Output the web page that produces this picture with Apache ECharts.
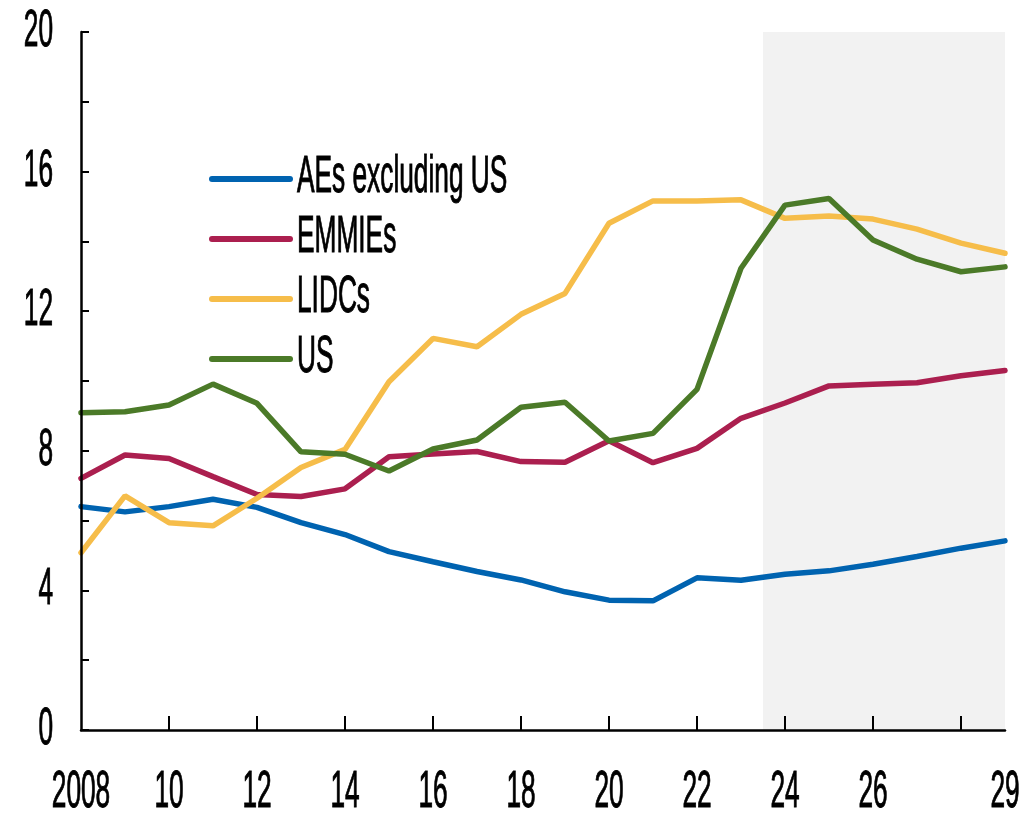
<!DOCTYPE html>
<html lang="en">
<head>
    <meta charset="utf-8">
    <title>Debt chart</title>
    <script src="https://cdn.jsdelivr.net/npm/echarts@6/dist/echarts.min.js"></script>
    <style>
        html,
        body {
            width: 100%;
            height: 100%;
            margin: 0;
            padding: 0;
            overflow: hidden;
            background-color: #ffffff;
        }

        #main {
            width: 1034px;
            height: 815px;
        }
    </style>
</head>

<body>
<div id="main"></div>
<script>

    var years = [2008, 2009, 2010, 2011, 2012, 2013, 2014, 2015, 2016, 2017, 2018,
        2019, 2020, 2021, 2022, 2023, 2024, 2025, 2026, 2027, 2028, 2029];
    var aesExUs = [6.40, 6.25, 6.40, 6.61, 6.38, 5.94, 5.60, 5.11, 4.82, 4.54, 4.30,
        3.96, 3.72, 3.70, 4.36, 4.29, 4.46, 4.56, 4.75, 4.97, 5.21, 5.42];
    var emmies = [7.21, 7.88, 7.78, 7.26, 6.75, 6.69, 6.91, 7.83, 7.91, 7.98, 7.69,
        7.67, 8.29, 7.66, 8.07, 8.93, 9.37, 9.86, 9.91, 9.95, 10.15, 10.30];
    var lidcs = [5.08, 6.71, 5.94, 5.85, 6.64, 7.52, 8.04, 9.98, 11.22, 10.98, 11.91,
        12.51, 14.52, 15.16, 15.16, 15.19, 14.66, 14.73, 14.64, 14.35, 13.95, 13.66];
    var us = [9.09, 9.12, 9.31, 9.91, 9.36, 7.97, 7.90, 7.42, 8.05, 8.31, 9.25,
        9.39, 8.28, 8.50, 9.76, 13.23, 15.04, 15.23, 14.04, 13.49, 13.13, 13.27];

    var seriesNames = ['AEs excluding US', 'EMMIEs', 'LIDCs', 'US'];
    var seriesColors = ['#0063b0', '#ab1f4f', '#f6bd4a', '#4b7a28'];

    // tick labels
    var xLabelYears = [2008, 2010, 2012, 2014, 2016, 2018, 2020, 2022, 2024, 2026, 2029];
    var xLabelText = ['2008', '10', '12', '14', '16', '18', '20', '22', '24', '26', '29'];
    var xTickYears = [2010, 2012, 2014, 2016, 2018, 2020, 2022, 2024, 2026, 2028];
    var yLabelValues = [0, 4, 8, 12, 16, 20];

    // projection period shading
    var projStart = 2023.5;
    var projEnd = 2029;

    // narrow, tall lettering like the original
    var fontName = '36px "Liberation Sans", Arial, sans-serif';
    var textScaleX = 0.73;
    var textScaleY = 1.42;

    function pairs(vals) {
        var out = [];
        for (var i = 0; i < years.length; i++) {
            out.push([years[i], vals[i]]);
        }
        return out;
    }

    function lineSeries(idx, vals) {
        return {
            name: seriesNames[idx],
            type: 'line',
            symbol: 'none',
            color: seriesColors[idx],
            lineStyle: {width: 5.5, color: seriesColors[idx], cap: 'round'},
            data: pairs(vals)
        };
    }

    var series = [
        lineSeries(0, aesExUs),
        lineSeries(1, emmies),
        lineSeries(2, lidcs),
        lineSeries(3, us)
    ];
    series[0].markArea = {
        silent: true,
        itemStyle: {color: '#f2f2f2'},
        data: [[{xAxis: projStart}, {xAxis: projEnd}]]
    };

    var myChart = echarts.init(document.getElementById('main'));
    var option = {
        animation: false,
        backgroundColor: '#ffffff',
        grid: {
            left: 81,
            right: 29,
            top: 32,
            bottom: 85
        },
        xAxis: {
            type: 'value',
            min: 2008,
            max: 2029,
            interval: 1,
            z: 5,
            splitLine: {show: false},
            axisLine: {lineStyle: {color: '#000000', width: 2.5}},
            axisTick: {
                inside: true,
                length: 14,
                customValues: xTickYears,
                lineStyle: {color: '#000000', width: 2}
            },
            axisLabel: {show: false}
        },
        yAxis: {
            type: 'value',
            min: 0,
            max: 20,
            interval: 2,
            z: 5,
            splitLine: {show: false},
            axisLine: {show: true, lineStyle: {color: '#000000', width: 2.5}},
            axisTick: {show: true, inside: true, length: 8, lineStyle: {color: '#000000', width: 2}},
            axisLabel: {show: false}
        },
        series: series
    };
    myChart.setOption(option);

    // labels and legend drawn as scaled text, placed through the axes
    function stretchedText(txt, x, y, align) {
        return {
            type: 'text',
            x: x,
            y: y,
            scaleX: textScaleX,
            scaleY: textScaleY,
            silent: true,
            z: 10,
            style: {
                text: txt,
                font: fontName,
                fill: '#000000',
                stroke: '#000000',
                lineWidth: 0.7,
                align: align,
                verticalAlign: 'middle'
            }
        };
    }

    var graphics = [];
    var origin = myChart.convertToPixel({gridIndex: 0}, [2008, 0]);
    for (var i = 0; i < xLabelYears.length; i++) {
        var px = myChart.convertToPixel({gridIndex: 0}, [xLabelYears[i], 0])[0];
        graphics.push(stretchedText(xLabelText[i], px, origin[1] + 63, 'center'));
    }
    for (var j = 0; j < yLabelValues.length; j++) {
        var py = myChart.convertToPixel({gridIndex: 0}, [2008, yLabelValues[j]])[1];
        graphics.push(stretchedText(String(yLabelValues[j]), origin[0] - 28, py, 'right'));
    }

    // legend
    var legendLeft = 212;
    var legendTop = 179;
    var legendStep = 60;
    for (var k = 0; k < seriesNames.length; k++) {
        var ly = legendTop + k * legendStep;
        graphics.push({
            type: 'line',
            silent: true,
            z: 10,
            shape: {x1: legendLeft, y1: ly, x2: legendLeft + 78, y2: ly},
            style: {stroke: seriesColors[k], lineWidth: 6, lineCap: 'round'}
        });
        graphics.push(stretchedText(seriesNames[k], legendLeft + 85, ly - 1, 'left'));
    }

    myChart.setOption({graphic: graphics});

</script>
</body>

</html>
